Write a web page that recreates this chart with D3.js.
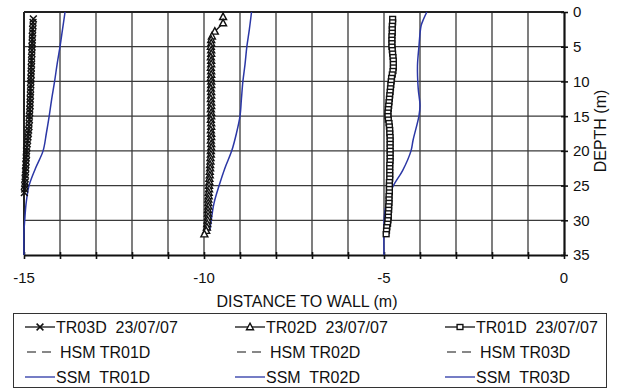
<html>
<head>
<meta charset="utf-8">
<title>Distance to wall vs depth</title>
<style>
  body { margin: 0; background: #fff; }
  text { font-family: "Liberation Sans", Arial, sans-serif; fill: #111; }
</style>
<script src="https://d3js.org/d3.v7.min.js"></script>
</head>
<body>
<svg width="618" height="388"></svg>
<script>
// ---- data ----
var tr03Depth = [1,1.5,2,2.5,3,3.5,4,4.5,5,5.5,6,6.5,7,7.5,8,8.5,9,9.5,10,10.5,11,11.5,12,12.5,13,13.5,14,14.5,15,15.5,16,16.5,17,17.5,18,18.5,19,19.5,20,20.5,21,21.5,22,22.5,23,23.5,24,24.5,25,25.5,26];
var tr03X = [-14.74,-14.75,-14.75,-14.76,-14.76,-14.77,-14.77,-14.77,-14.78,-14.78,
             -14.78,-14.79,-14.79,-14.79,-14.80,-14.80,-14.80,-14.81,-14.81,-14.81,
             -14.82,-14.82,-14.82,-14.83,-14.83,-14.83,-14.84,-14.84,-14.85,-14.85,
             -14.86,-14.86,-14.87,-14.88,-14.89,-14.90,-14.91,-14.92,-14.93,-14.93,
             -14.94,-14.94,-14.95,-14.95,-14.96,-14.96,-14.97,-14.97,-14.98,-14.98,-14.99];

var tr02Depth = [0.7,1.6,2.8,3.5,4,4.5,5,5.5,6,6.5,7,7.5,8,8.5,9,9.5,10,10.5,11,11.5,12,12.5,13,13.5,14,14.5,15,15.5,16,16.5,17,17.5,18,18.5,19,19.5,20,20.5,21,21.5,22,22.5,23,23.5,24,24.5,25,25.5,26,26.5,27,27.5,28,28.5,29,29.5,30,30.5,31,31.5,32];
var tr02X = [-9.47,-9.47,-9.70,-9.78,-9.80,-9.80,-9.81,-9.80,-9.80,-9.81,
             -9.80,-9.80,-9.81,-9.80,-9.80,-9.81,-9.80,-9.80,-9.81,-9.80,
             -9.80,-9.81,-9.80,-9.80,-9.81,-9.80,-9.80,-9.81,-9.80,-9.80,
             -9.81,-9.80,-9.80,-9.81,-9.80,-9.80,-9.81,-9.81,-9.82,-9.82,
             -9.83,-9.83,-9.84,-9.84,-9.85,-9.85,-9.86,-9.86,-9.87,-9.87,
             -9.88,-9.88,-9.88,-9.89,-9.89,-9.89,-9.90,-9.91,-9.92,-9.94,-9.99];

var tr01Depth = [1,1.5,2,2.5,3,3.5,4,4.5,5,5.5,6,6.5,7,7.5,8,8.5,9,9.5,10,10.5,11,11.5,12,12.5,13,13.5,14,14.5,15,15.5,16,16.5,17,17.5,18,18.5,19,19.5,20,20.5,21,21.5,22,22.5,23,23.5,24,24.5,25,25.5,26,26.5,27,27.5,28,28.5,29,29.5,30,30.5,31,31.5,32];
var tr01X = [-4.76,-4.76,-4.77,-4.77,-4.77,-4.78,-4.78,-4.78,-4.78,-4.77,
             -4.76,-4.75,-4.74,-4.74,-4.74,-4.75,-4.77,-4.79,-4.80,-4.81,
             -4.82,-4.83,-4.84,-4.85,-4.86,-4.87,-4.88,-4.89,-4.89,-4.88,
             -4.86,-4.85,-4.84,-4.84,-4.83,-4.83,-4.83,-4.83,-4.83,-4.83,
             -4.83,-4.83,-4.84,-4.84,-4.84,-4.84,-4.84,-4.85,-4.85,-4.85,
             -4.85,-4.86,-4.86,-4.86,-4.87,-4.87,-4.88,-4.88,-4.89,-4.90,
             -4.92,-4.93,-4.94];

var ssm01 = [[0,-13.86],[2.5,-13.93],[5,-14.0],[7.5,-14.08],[10,-14.15],[12.5,-14.23],[15,-14.3],[17.5,-14.38],[20,-14.47],[22.5,-14.68],[25,-14.86],[27.5,-14.94],[30,-14.98],[31.5,-15],[35,-15]];
var ssm02 = [[0,-8.68],[2.5,-8.74],[5,-8.81],[7.5,-8.86],[10,-8.92],[12.5,-8.96],[15,-9.0],[17.5,-9.1],[20,-9.23],[22.5,-9.42],[25,-9.58],[27.5,-9.72],[30,-9.8],[31.5,-9.84]];
var ssm03 = [[0,-3.81],[1,-3.9],[2,-3.97],[5,-4.03],[7.8,-4.07],[11,-4.05],[13.5,-4.0],[15,-4.03],[18.4,-4.19],[20,-4.25],[22.8,-4.48],[25,-4.74],[26.6,-4.88],[28.5,-4.97],[30.5,-5.0],[35,-5.0]];

var xTicks = [-15,-10,-5,0];
var yTicks = [0,5,10,15,20,25,30,35];

var legendRows = [
  [{key:"TR03D  23/07/07",type:"cross"},{key:"TR02D  23/07/07",type:"tri"},{key:"TR01D  23/07/07",type:"square"}],
  [{key:"HSM TR01D",type:"dash"},{key:"HSM TR02D",type:"dash"},{key:"HSM TR03D",type:"dash"}],
  [{key:"SSM  TR01D",type:"blue"},{key:"SSM  TR02D",type:"blue"},{key:"SSM  TR03D",type:"blue"}]
];

// ---- chart ----
var svg = d3.select("svg");
var blue = "#2b37a6";

var x = d3.scaleLinear().domain([-15,0]).range([24,564]);
var y = d3.scaleLinear().domain([0,35]).range([12,255]);

var grid = svg.append("g").attr("stroke","#3a3a3a").attr("stroke-width",1.3);
grid.selectAll(".v").data(d3.range(-14,0)).enter().append("line")
    .attr("x1",d=>x(d)).attr("x2",d=>x(d)).attr("y1",y(0)).attr("y2",y(35));
grid.selectAll(".h").data(yTicks.slice(1,-1)).enter().append("line")
    .attr("y1",d=>y(d)).attr("y2",d=>y(d)).attr("x1",x(-15)).attr("x2",x(0));

// frame: top and left
svg.append("line").attr("x1",x(-15)).attr("x2",x(0)).attr("y1",y(0)).attr("y2",y(0))
   .attr("stroke","#222").attr("stroke-width",2);
svg.append("line").attr("x1",x(-15)).attr("x2",x(-15)).attr("y1",y(0)).attr("y2",y(35))
   .attr("stroke","#222").attr("stroke-width",2);

// bottom axis
var xAxis = svg.append("g").attr("transform","translate(0,"+y(35)+")")
    .call(d3.axisBottom(x).tickValues(d3.range(-15,1)).tickSize(4).tickSizeOuter(0).tickFormat(""));
xAxis.select(".domain").attr("stroke","#111").attr("stroke-width",2.2);
xAxis.selectAll(".tick line").attr("stroke","#111").attr("stroke-width",1.6).attr("y1",-3);
svg.append("g").selectAll("text").data(xTicks).enter().append("text")
    .attr("x",d=>x(d)).attr("y",283).attr("text-anchor","middle")
    .style("font-size","15px").text(d=>d);
svg.append("text").attr("x",307).attr("y",307).attr("text-anchor","middle")
    .style("font-size","16px").text("DISTANCE TO WALL (m)");

// right axis
var yAxis = svg.append("g").attr("transform","translate("+x(0)+",0)")
    .call(d3.axisRight(y).tickValues(yTicks).tickSize(4).tickSizeOuter(0).tickFormat(""));
yAxis.select(".domain").attr("stroke","#111").attr("stroke-width",2.2);
yAxis.selectAll(".tick line").attr("stroke","#111").attr("stroke-width",1.6).attr("x1",-3);
svg.append("g").selectAll("text").data(yTicks).enter().append("text")
    .attr("x",573).attr("y",d=>y(d)).attr("dy","0.36em")
    .style("font-size","15px").text(d=>d);
svg.append("text").attr("transform","translate(606,131) rotate(-90)")
    .attr("text-anchor","middle").style("font-size","16px").text("DEPTH (m)");

// SSM curves
var ssmLine = d3.line().x(d=>x(d[1])).y(d=>y(d[0])).curve(d3.curveCatmullRom);
[ssm01,ssm02,ssm03].forEach(function(s){
  svg.append("path").datum(s).attr("d",ssmLine)
     .attr("fill","none").attr("stroke",blue).attr("stroke-width",1.5);
});

// measured series
var measLine = d3.line().x(d=>x(d[1])).y(d=>y(d[0]));
function marker(sel,type){
  if(type=="cross"){
    sel.append("path").attr("d","M-3.4,-3.4L3.4,3.4M-3.4,3.4L3.4,-3.4")
       .attr("stroke","#111").attr("stroke-width",1.5).attr("fill","none");
  } else if(type=="tri"){
    sel.append("path").attr("d","M0,-3.8L3.5,2.7L-3.5,2.7Z")
       .attr("stroke","#111").attr("stroke-width",1.4).attr("fill","#fff");
  } else if(type=="square"){
    sel.append("rect").attr("x",-2.9).attr("y",-2.5).attr("width",5.8).attr("height",5)
       .attr("stroke","#111").attr("stroke-width",1.4).attr("fill","#fff");
  }
}
[[tr03Depth,tr03X,"cross"],[tr02Depth,tr02X,"tri"],[tr01Depth,tr01X,"square"]].forEach(function(s){
  var pts = s[0].map((d,i)=>[d,s[1][i]]);
  svg.append("path").datum(pts).attr("d",measLine)
     .attr("fill","none").attr("stroke","#111").attr("stroke-width",1.3);
  svg.append("g").selectAll("g").data(pts).enter().append("g")
     .attr("transform",d=>"translate("+x(d[1])+","+y(d[0])+")")
     .each(function(){ marker(d3.select(this),s[2]); });
});

// legend
svg.append("rect").attr("x",13.5).attr("y",313.5).attr("width",593).attr("height",74)
   .attr("fill","#fff").attr("stroke","#333").attr("stroke-width",1);
var colX = [25,235,445], rowY = [327,352,377];
legendRows.forEach(function(row,r){
  row.forEach(function(item,c){
    var g = svg.append("g").attr("transform","translate("+colX[c]+","+rowY[r]+")");
    if(item.type=="dash"){
      g.append("line").attr("x1",2).attr("x2",26).attr("y1",0).attr("y2",0)
       .attr("stroke","#111").attr("stroke-width",1.2).attr("stroke-dasharray","9,6");
    } else {
      g.append("line").attr("x1",0).attr("x2",30).attr("y1",0).attr("y2",0)
       .attr("stroke",item.type=="blue"?blue:"#111").attr("stroke-width",1.3);
      marker(g.append("g").attr("transform","translate(15,0)"),item.type);
    }
    g.append("text").attr("x",item.type=="dash"?35:31).attr("y",0).attr("dy","0.36em")
     .style("font-size","16px").style("white-space","pre").text(item.key);
  });
});
</script>
</body>
</html>
